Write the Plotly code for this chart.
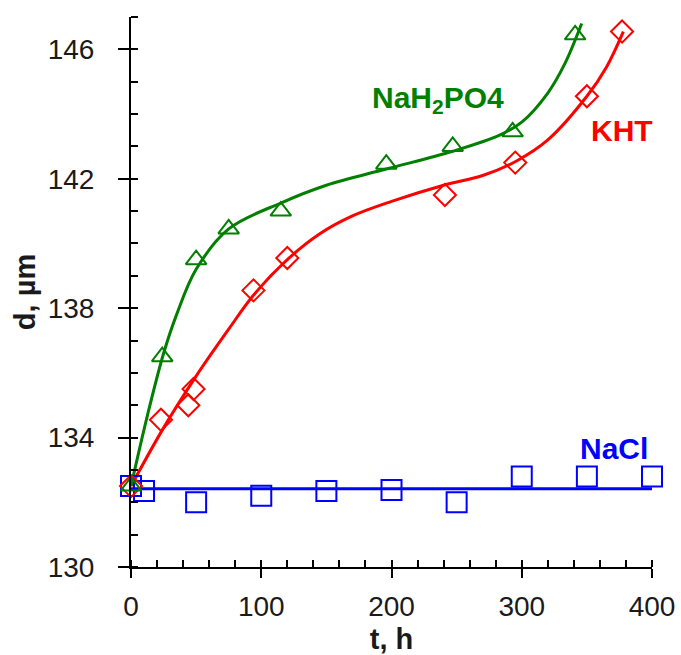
import numpy as np
import plotly.graph_objects as go

# ---- measured data ----
nah2po4_t = [0, 24, 50, 75, 115, 196, 247, 293, 341]
nah2po4_d = [132.5, 136.5, 139.5, 140.45, 141.0, 142.45, 143.0, 143.45, 146.45]

kht_t = [0, 23, 44, 48, 94, 120, 241, 295, 350, 377]
kht_d = [132.5, 134.55, 135.0, 135.5, 138.55, 139.55, 141.5, 142.5, 144.55, 146.55]

nacl_t = [0, 10, 50, 100, 150, 200, 250, 300, 350, 400]
nacl_d = [132.5, 132.35, 132.0, 132.2, 132.35, 132.38, 132.0, 132.8, 132.8, 132.8]

# ---- fitted curves ----
nah2po4_fit_t = [0, 13, 25, 35, 50, 75, 115, 150, 196, 247, 283, 300, 320, 333, 346]
nah2po4_fit_d = [132.5, 134.75, 136.6, 137.8, 139.2, 140.45, 141.25, 141.8, 142.3,
                 142.85, 143.35, 143.75, 144.65, 145.55, 146.8]

kht_fit_t = [0, 25, 50, 75, 94, 120, 145, 170, 200, 240, 270, 296, 320, 350, 365, 378]
kht_fit_d = [132.5, 134.3, 135.9, 137.35, 138.4, 139.5, 140.3, 140.85, 141.3, 141.8,
             142.1, 142.55, 143.2, 144.55, 145.45, 146.55]

nacl_fit_t = [0, 400]

x_ticks = [0, 100, 200, 300, 400]
y_ticks = [130, 134, 138, 142, 146]

GREEN = "#007f00"
RED = "#ff0000"
BLUE = "#0000ff"
FONT = "Liberation Sans, Arial, sans-serif"
TXT = "#1a1a1a"

fig = go.Figure()

nacl_mean = float(np.mean(nacl_d))
fig.add_trace(go.Scatter(x=nacl_fit_t, y=[nacl_mean] * len(nacl_fit_t), mode="lines",
                         line=dict(color=BLUE, width=3), cliponaxis=False, showlegend=False))
fig.add_trace(go.Scatter(x=kht_fit_t, y=kht_fit_d, mode="lines",
                         line=dict(color=RED, width=3, shape="spline", smoothing=1),
                         cliponaxis=False, showlegend=False))
fig.add_trace(go.Scatter(x=nah2po4_fit_t, y=nah2po4_fit_d, mode="lines",
                         line=dict(color=GREEN, width=3, shape="spline", smoothing=1),
                         cliponaxis=False, showlegend=False))

fig.add_trace(go.Scatter(x=nacl_t, y=nacl_d, mode="markers", cliponaxis=False, showlegend=False,
                         marker=dict(symbol="square-open", size=20, color=BLUE,
                                     line=dict(color=BLUE, width=2))))
fig.add_trace(go.Scatter(x=kht_t, y=kht_d, mode="markers", cliponaxis=False, showlegend=False,
                         marker=dict(symbol="diamond-open", size=17, color=RED,
                                     line=dict(color=RED, width=2))))
fig.add_trace(go.Scatter(x=nah2po4_t, y=nah2po4_d, mode="markers", cliponaxis=False, showlegend=False,
                         marker=dict(symbol="triangle-up-open", size=18, color=GREEN,
                                     line=dict(color=GREEN, width=2))))

# series labels
fig.add_annotation(x=236, y=144.45, text="<b>NaH<sub>2</sub>PO4</b>", showarrow=False,
                   font=dict(family=FONT, size=30, color=GREEN), xanchor="center", yanchor="middle")
fig.add_annotation(x=377, y=143.5, text="<b>KHT</b>", showarrow=False,
                   font=dict(family=FONT, size=30, color=RED), xanchor="center", yanchor="middle")
fig.add_annotation(x=371, y=133.65, text="<b>NaCl</b>", showarrow=False,
                   font=dict(family=FONT, size=30, color=BLUE), xanchor="center", yanchor="middle")

fig.update_layout(
    width=681, height=655,
    margin=dict(l=131, r=29, t=17, b=88, autoexpand=False),
    paper_bgcolor="white", plot_bgcolor="white",
    font=dict(family=FONT, size=28, color=TXT),
    xaxis=dict(range=[0, 400], tickvals=x_ticks, ticktext=[str(v) for v in x_ticks],
               tickfont=dict(family=FONT, size=28, color=TXT), automargin=False,
               showgrid=False, zeroline=False, showline=True, linecolor="black", linewidth=2,
               ticks="outside", ticklen=9, tickwidth=2, tickcolor="black",
               ticklabelstandoff=4,
               minor=dict(dtick=20, tick0=0, ticks="inside", ticklen=7, tickwidth=2,
                          tickcolor="black", showgrid=False),
               title=dict(text="<b>t, h</b>", font=dict(family=FONT, size=29, color=TXT),
                          standoff=11)),
    yaxis=dict(range=[130, 147], tickvals=y_ticks, ticktext=[str(v) for v in y_ticks],
               tickfont=dict(family=FONT, size=28, color=TXT), automargin=False,
               showgrid=False, zeroline=False, showline=True, linecolor="black", linewidth=2,
               ticks="outside", ticklen=11, tickwidth=2, tickcolor="black",
               ticklabelstandoff=18,
               minor=dict(dtick=1, tick0=130, ticks="inside", ticklen=7, tickwidth=2,
                          tickcolor="black", showgrid=False),
               title=dict(text="<b>d, µm</b>", font=dict(family=FONT, size=29, color=TXT),
                          standoff=4)),
    xaxis2=dict(overlaying="x", anchor="y", range=[0, 400], tickvals=x_ticks, automargin=False,
                showticklabels=False, showgrid=False, zeroline=False, showline=False,
                ticks="inside", ticklen=8, tickwidth=2, tickcolor="black", side="bottom"),
    yaxis2=dict(overlaying="y", anchor="x", range=[130, 147], tickvals=y_ticks, automargin=False,
                showticklabels=False, showgrid=False, zeroline=False, showline=False,
                ticks="inside", ticklen=6, tickwidth=2, tickcolor="black", side="left"),
)

fig.write_html("out.html")
